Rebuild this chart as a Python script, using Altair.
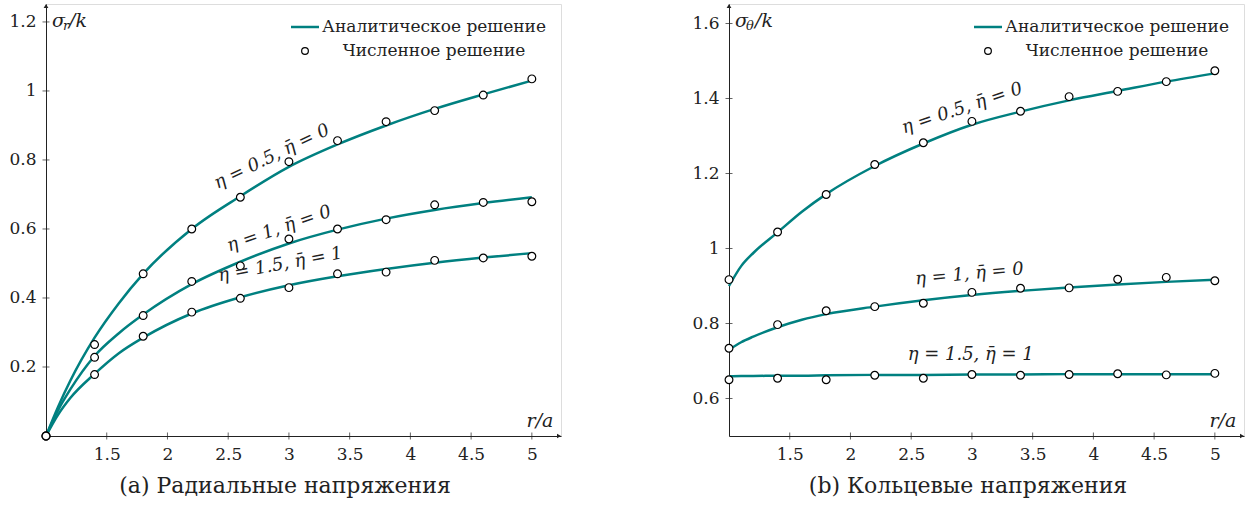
import altair as alt
import pandas as pd

# ---------------- data ----------------
x_num = [1.0, 1.4, 1.8, 2.2, 2.6, 3.0, 3.4, 3.8, 4.2, 4.6, 5.0]
x_line = [1.0, 1.1, 1.2, 1.4, 1.6, 1.8, 2.2, 2.6, 3.0, 3.4, 3.8, 4.2, 4.6, 5.0]

# (a) radial stress
a_line_05 = [0.0, 0.085, 0.16, 0.285, 0.385, 0.47, 0.60, 0.695, 0.78, 0.845, 0.90, 0.948, 0.99, 1.03]
a_line_10 = [0.0, 0.075, 0.135, 0.232, 0.298, 0.352, 0.44, 0.505, 0.558, 0.598, 0.63, 0.655, 0.675, 0.692]
a_line_15 = [0.0, 0.062, 0.11, 0.18, 0.24, 0.285, 0.355, 0.402, 0.437, 0.463, 0.484, 0.502, 0.517, 0.53]
a_num_05 = [0.0, 0.265, 0.47, 0.60, 0.692, 0.795, 0.856, 0.911, 0.943, 0.988, 1.035]
a_num_10 = [0.0, 0.228, 0.349, 0.448, 0.493, 0.571, 0.600, 0.627, 0.670, 0.677, 0.679]
a_num_15 = [0.0, 0.178, 0.289, 0.359, 0.399, 0.430, 0.470, 0.475, 0.509, 0.516, 0.521]

# (b) hoop stress
b_line_05 = [0.90, 0.953, 0.988, 1.043, 1.098, 1.145, 1.22, 1.28, 1.33, 1.365, 1.395, 1.42, 1.445, 1.467]
b_line_10 = [0.73, 0.75, 0.765, 0.79, 0.81, 0.825, 0.845, 0.862, 0.876, 0.887, 0.896, 0.904, 0.911, 0.917]
b_line_15 = [0.659, 0.660, 0.660, 0.661, 0.661, 0.662, 0.663, 0.663, 0.664, 0.664, 0.665, 0.665, 0.665, 0.665]
b_num_05 = [0.917, 1.044, 1.144, 1.224, 1.282, 1.339, 1.366, 1.405, 1.419, 1.445, 1.474]
b_num_10 = [0.734, 0.797, 0.834, 0.845, 0.854, 0.883, 0.894, 0.895, 0.918, 0.923, 0.914]
b_num_15 = [0.650, 0.654, 0.650, 0.662, 0.654, 0.664, 0.662, 0.664, 0.666, 0.663, 0.667]

series_names = ["η=0.5", "η=1", "η=1.5"]
curve_labels = ["η = 0.5, η\u0304 = 0", "η = 1, η\u0304 = 0", "η = 1.5, η\u0304 = 1"]

a_label_x = [2.86, 2.92, 2.93]
a_label_y = [0.809, 0.60, 0.496]
a_label_angle = [334, 341, 349.5]

b_label_x = [2.92, 2.98, 2.99]
b_label_y = [1.373, 0.931, 0.715]
b_label_angle = [341.3, 354.5, 0]

x_ticks = [1.5, 2, 2.5, 3, 3.5, 4, 4.5, 5]
a_y_ticks = [0.2, 0.4, 0.6, 0.8, 1, 1.2]
b_y_ticks = [0.6, 0.8, 1, 1.2, 1.4, 1.6]

legend_texts = ["Аналитическое решение", "Численное решение"]
titles = ["(a) Радиальные напряжения", "(b) Кольцевые напряжения"]

# ---------------- style ----------------
W, H = 515, 432
TEAL = "#008080"
FONT = "DejaVu Serif"
X_DOMAIN = [1, 5.24]


def frame(lines, nums):
    ldf = pd.concat([pd.DataFrame({"x": x_line, "y": v, "s": n}) for v, n in zip(lines, series_names)])
    ndf = pd.concat([pd.DataFrame({"x": x_num, "y": v, "s": n}) for v, n in zip(nums, series_names)])
    return ldf, ndf


def panel(lines, nums, lx, ly, lang, y_domain, y_ticks, sub, title):
    ldf, ndf = frame(lines, nums)
    xs = alt.Scale(domain=X_DOMAIN, nice=False, zero=False)
    ys = alt.Scale(domain=y_domain, nice=False, zero=False)
    xax = alt.Axis(values=x_ticks, format="~g", grid=False, ticks=False, tickSize=0,
                   domainColor="#222", domainWidth=1, labelFont=FONT, labelFontSize=17,
                   labelColor="#222", labelPadding=10, title=None)
    yax = alt.Axis(values=y_ticks, format="~g", grid=False, ticks=False, tickSize=0,
                   domainColor="#222", domainWidth=1, labelFont=FONT, labelFontSize=17,
                   labelColor="#222", labelPadding=10, title=None)
    X = alt.X("x:Q", scale=xs, axis=xax)
    Y = alt.Y("y:Q", scale=ys, axis=yax)

    lines_l = alt.Chart(ldf).mark_line(color=TEAL, strokeWidth=2.5, interpolate="monotone").encode(
        x=X, y=Y, detail="s:N")
    pts = alt.Chart(ndf).mark_point(shape="circle", filled=True, fill="white", stroke="black",
                                    strokeWidth=1.2, size=60, opacity=1).encode(
        x=alt.X("x:Q", scale=xs), y=alt.Y("y:Q", scale=ys))

    xt = alt.Chart(pd.DataFrame({"x": x_ticks})).mark_tick(orient="vertical", size=7, thickness=1,
                                                           color="#222").encode(
        x=alt.X("x:Q", scale=xs), y=alt.value(H))
    yt = alt.Chart(pd.DataFrame({"y": y_ticks})).mark_tick(orient="horizontal", size=7, thickness=1,
                                                           color="#222").encode(
        y=alt.Y("y:Q", scale=ys), x=alt.value(0))

    one = pd.DataFrame({"a": [0]})
    arr_x = alt.Chart(one).mark_point(shape="triangle-right", filled=True, color="#222", size=22,
                                      opacity=1).encode(x=alt.value(W - 2), y=alt.value(H))
    arr_y = alt.Chart(one).mark_point(shape="triangle-up", filled=True, color="#222", size=22,
                                      opacity=1).encode(x=alt.value(0), y=alt.value(2))

    lab_df = pd.DataFrame({"x": lx, "y": ly, "t": curve_labels, "ang": lang})
    labs = alt.Chart(lab_df).mark_text(font=FONT, fontSize=18, fontStyle="italic", color="#222",
                                       baseline="middle", align="center").encode(
        x=alt.X("x:Q", scale=xs), y=alt.Y("y:Q", scale=ys), text="t:N",
        angle=alt.Angle("ang:Q", scale=None))

    # legend
    leg_line = alt.Chart(one).mark_rule(color=TEAL, strokeWidth=2.5).encode(
        x=alt.value(245), x2=alt.value(273), y=alt.value(23))
    leg_pt = alt.Chart(one).mark_point(shape="circle", filled=True, fill="white", stroke="black",
                                       strokeWidth=1.2, size=45, opacity=1).encode(
        x=alt.value(259), y=alt.value(47))
    leg_t1 = alt.Chart(one).mark_text(font=FONT, fontSize=17, color="#222", align="center",
                                      baseline="middle").encode(
        x=alt.value(388), y=alt.value(23), text=alt.value(legend_texts[0]))
    leg_t2 = alt.Chart(one).mark_text(font=FONT, fontSize=17, color="#222", align="center",
                                      baseline="middle").encode(
        x=alt.value(388), y=alt.value(47), text=alt.value(legend_texts[1]))

    # axis titles
    def txt(s, x, y, size=19, italic=True, align="left"):
        return alt.Chart(one).mark_text(font=FONT, fontSize=size,
                                        fontStyle="italic" if italic else "normal",
                                        color="#222", align=align, baseline="middle").encode(
            x=alt.value(x), y=alt.value(y), text=alt.value(s))

    sig = txt("σ", 6, 17)
    subl = txt(sub, 17, 22, size=13)
    slash = txt("/k", 23 if sub == "r" else 26, 17)
    ra = txt("r/a", 494, 417, align="center")

    return alt.layer(lines_l, xt, yt, arr_x, arr_y, pts, labs, leg_line, leg_pt, leg_t1, leg_t2,
                     sig, subl, slash, ra).properties(
        width=W, height=H,
        title=alt.TitleParams(title, orient="bottom", fontSize=22, font=FONT, fontWeight="normal",
                              color="#222", frame="bounds", anchor="middle", offset=14))


left = panel([a_line_05, a_line_10, a_line_15], [a_num_05, a_num_10, a_num_15],
             a_label_x, a_label_y, a_label_angle, [0, 1.252], a_y_ticks, "r", titles[0])
right = panel([b_line_05, b_line_10, b_line_15], [b_num_05, b_num_10, b_num_15],
              b_label_x, b_label_y, b_label_angle, [0.5, 1.652], b_y_ticks, "θ", titles[1])

chart = alt.hconcat(left, right, spacing=129).properties(
    padding={"left": 8, "top": 3, "right": 0, "bottom": 0}
).configure_view(stroke=None).configure(background="white")

chart.save("out.html", embed_options={"renderer": "svg", "actions": False})
